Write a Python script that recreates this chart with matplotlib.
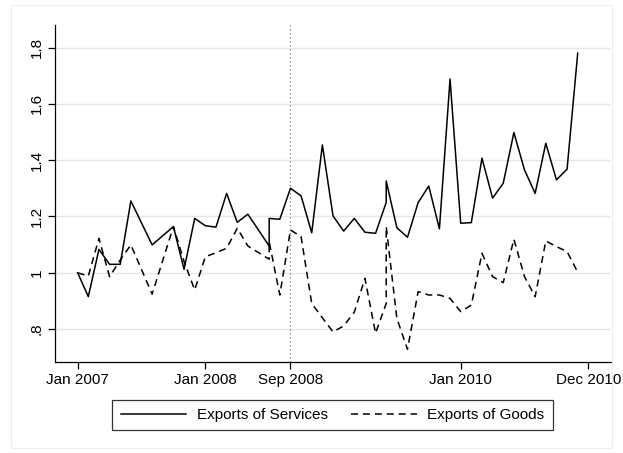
import matplotlib.pyplot as plt
from matplotlib.lines import Line2D

plt.rcParams['font.family'] = ['Liberation Sans', 'DejaVu Sans']

# months since Jan 2007 (months 18 and 29 appear twice in the source)
months = [0, 1, 2, 3, 4, 5, 7, 9, 10, 11, 12, 13, 14, 15, 16, 18, 18, 19,
          20, 21, 22, 23, 24, 25, 26, 27, 28, 29, 29, 30, 31, 32, 33, 34,
          35, 36, 37, 38, 39, 40, 41, 42, 43, 44, 45, 46, 47]

services = [1.000, 0.915, 1.083, 1.030, 1.030, 1.255, 1.099, 1.164, 1.012,
            1.193, 1.167, 1.162, 1.282, 1.179, 1.208, 1.095, 1.193, 1.190,
            1.300, 1.273, 1.142, 1.454, 1.202, 1.148, 1.193, 1.144, 1.140,
            1.250, 1.326, 1.160, 1.126, 1.249, 1.308, 1.156, 1.688, 1.176,
            1.178, 1.407, 1.265, 1.318, 1.498, 1.365, 1.282, 1.460, 1.330,
            1.368, 1.780]

goods = [1.000, 0.988, 1.122, 0.986, 1.045, 1.099, 0.924, 1.164, 1.040,
         0.939, 1.057, 1.071, 1.087, 1.158, 1.095, 1.048, 1.110, 0.921,
         1.152, 1.128, 0.891, 0.840, 0.790, 0.811, 0.860, 0.980, 0.785,
         0.891, 1.164, 0.838, 0.728, 0.933, 0.921, 0.921, 0.909, 0.862,
         0.885, 1.069, 0.986, 0.965, 1.119, 0.986, 0.915, 1.113, 1.093,
         1.075, 1.002]

xtick_pos = [0, 12, 20, 36, 48]
xtick_labels = ['Jan 2007', 'Jan 2008', 'Sep 2008', 'Jan 2010', 'Dec 2010']
ytick_pos = [0.8, 1.0, 1.2, 1.4, 1.6, 1.8]
ytick_labels = ['.8', '1', '1.2', '1.4', '1.6', '1.8']

dash = (0, (4.6, 3.2))

fig = plt.figure(figsize=(6.23, 4.53), dpi=100)
ax = fig.add_axes([55 / 623, 1 - 362 / 453, (610.7 - 55) / 623, (362 - 25) / 453])

for y in ytick_pos:
    ax.axhline(y, color='#e6e6e6', lw=1.0, zorder=0)
ax.axvline(20, color='#8c8c8c', lw=0.9, linestyle=(0, (1.2, 2.0)), zorder=1)

ax.plot(months, services, color='black', lw=1.1, zorder=3)
ax.plot(months, goods, color='black', lw=1.1, linestyle=dash, zorder=3)

ax.set_xlim(-2.13, 50.1)
ax.set_ylim(0.683, 1.88)
ax.set_xticks(xtick_pos)
ax.set_xticklabels(xtick_labels, fontsize=11)
ax.set_yticks(ytick_pos)
ax.set_yticklabels(ytick_labels, fontsize=11, rotation=90, va='center')
ax.tick_params(direction='out', length=5, width=0.9, colors='black', pad=3)

for side in ['top', 'right']:
    ax.spines[side].set_visible(False)
for side in ['left', 'bottom']:
    ax.spines[side].set_linewidth(0.9)

handles = [Line2D([], [], color='black', lw=1.1),
           Line2D([], [], color='black', lw=1.1, linestyle=dash)]
leg = fig.legend(handles, ['Exports of Services', 'Exports of Goods'],
                 loc='center', bbox_to_anchor=(332.5 / 623, 1 - 415 / 453),
                 ncol=2, fontsize=11, frameon=True, fancybox=False,
                 edgecolor='black', handlelength=4.3, handletextpad=0.7,
                 columnspacing=1.5, borderpad=0.55)
leg.get_frame().set_linewidth(0.9)

# faint outer frame
fig.add_artist(plt.Rectangle((11 / 623, 0.01), 1 - 22 / 623, 0.98, fill=False,
                             edgecolor='#eeeeee', lw=0.8, transform=fig.transFigure))

fig.savefig('out.png', dpi=100)
